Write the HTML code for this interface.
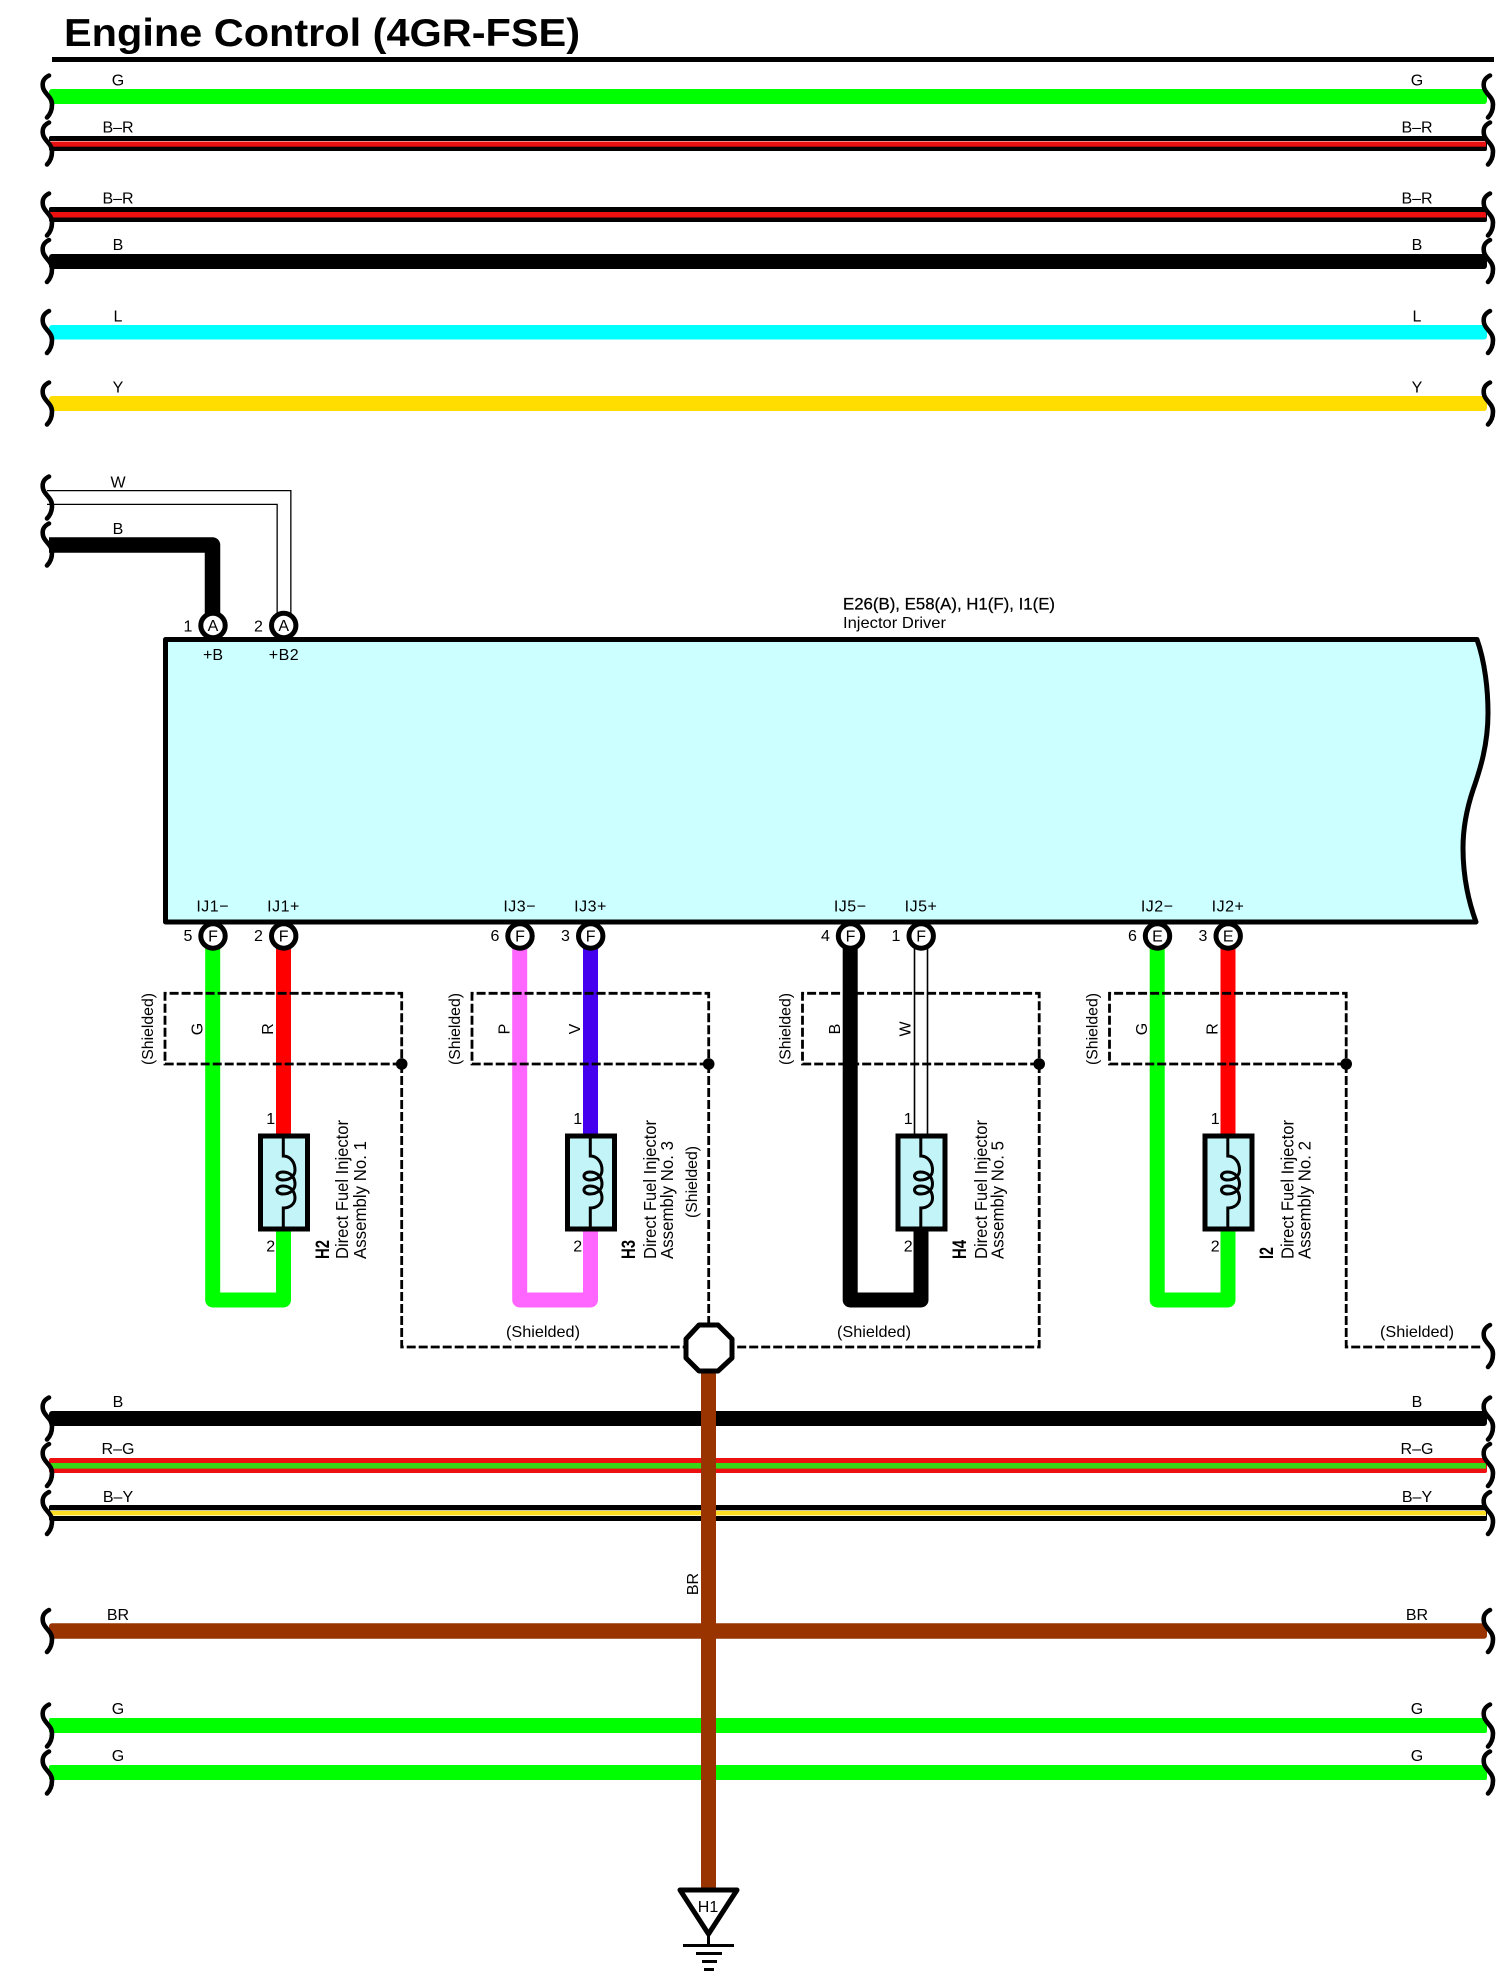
<!DOCTYPE html>
<html><head><meta charset="utf-8">
<style>
html,body{margin:0;padding:0;background:#fff}
svg{display:block}
text{font-family:"Liberation Sans",Arial,sans-serif;font-size:16px;fill:#000}
.m{text-anchor:middle}
.d{fill:none;stroke:#000;stroke-width:2.8;stroke-dasharray:9 3}
.c{fill:#fff;stroke:#000;stroke-width:5}
.w{fill:none;stroke-width:15;stroke-linejoin:round}
</style></head><body>
<svg width="1509" height="1986" viewBox="0 0 1509 1986" xmlns="http://www.w3.org/2000/svg">
<defs>
<path id="sq" d="M49,-21 C43,-18 42,-14 43,-9 C44,-3 52,0 52,8 C52,14 50,18 47,21" fill="none" stroke="#000" stroke-width="4.6" stroke-linecap="round"/>
<g id="inj">
<rect x="260.5" y="1136" width="47" height="93" fill="#c2f4f8" stroke="#000" stroke-width="5"/>
<path d="M283.3,1136 V1156 C290,1156 295,1162 295,1170 C295,1176 290,1180 283,1180 C275,1180 275,1172 283,1172 C291,1172 295,1178 295,1184 C295,1190 290,1194 283,1194 C275,1194 275,1186 283,1186 C291,1186 295,1192 295,1198 C295,1204 290,1208 283.3,1208 V1229" fill="none" stroke="#000" stroke-width="3"/>
</g>
<g id="shield">
<path class="d" d="M401.7,1064 H165 V993.3 H401.7 V1064"/>
<circle cx="401.7" cy="1064" r="5.8" fill="#000"/>
</g>
</defs>

<!-- Title -->
<text x="64" y="46" style="font-size:39px;font-weight:bold" textLength="516" lengthAdjust="spacingAndGlyphs">Engine Control (4GR-FSE)</text>
<rect x="52" y="57" width="1442" height="5"/>

<!-- Top buses -->
<rect x="49" y="89" width="1438" height="15" rx="3" fill="#00ff00"/>
<rect x="49" y="136" width="1438" height="15" rx="2" fill="#000"/>
<rect x="49" y="141" width="1438" height=".8" fill="#fff"/>
<rect x="50" y="141.5" width="1436" height="5.2" fill="#e81010"/>
<rect x="49" y="207" width="1438" height="15" rx="2" fill="#000"/>
<rect x="50" y="212" width="1436" height="5.5" fill="#ee1010"/>
<rect x="49" y="254" width="1438" height="15" rx="3" fill="#000"/>
<rect x="49" y="325" width="1438" height="14.5" rx="3" fill="#00ffff"/>
<rect x="49" y="396" width="1438" height="15" rx="3" fill="#ffdd00"/>

<use href="#sq" transform="translate(0,96.5)"/><use href="#sq" transform="translate(1441,96.5)"/>
<use href="#sq" transform="translate(0,143.5)"/><use href="#sq" transform="translate(1441,143.5)"/>
<use href="#sq" transform="translate(0,214.5)"/><use href="#sq" transform="translate(1441,214.5)"/>
<use href="#sq" transform="translate(0,261)"/><use href="#sq" transform="translate(1441,261)"/>
<use href="#sq" transform="translate(0,332)"/><use href="#sq" transform="translate(1441,332)"/>
<use href="#sq" transform="translate(0,403.5)"/><use href="#sq" transform="translate(1441,403.5)"/>

<text class="m" x="118" y="85.5">G</text><text class="m" x="1417" y="85.5">G</text>
<text class="m" x="118" y="132.5">B–R</text><text class="m" x="1417" y="132.5">B–R</text>
<text class="m" x="118" y="203.5">B–R</text><text class="m" x="1417" y="203.5">B–R</text>
<text class="m" x="118" y="250">B</text><text class="m" x="1417" y="250">B</text>
<text class="m" x="118" y="321.5">L</text><text class="m" x="1417" y="321.5">L</text>
<text class="m" x="118" y="392.5">Y</text><text class="m" x="1417" y="392.5">Y</text>

<!-- Module -->
<path d="M165.5,639.5 H1477 C1485,662 1488,690 1488,713 C1488,745 1480,770 1473,790 C1467,808 1463,828 1463,848 C1463,875 1468,900 1476,922 H165.5 Z" fill="#ccffff" stroke="#000" stroke-width="5" stroke-linejoin="round"/>
<text x="843" y="609.5" style="font-size:17px" stroke="#000" stroke-width=".25" textLength="212" lengthAdjust="spacingAndGlyphs">E26(B), E58(A), H1(F), I1(E)</text>
<text x="843" y="628" textLength="103" lengthAdjust="spacingAndGlyphs">Injector Driver</text>

<!-- Top inputs -->
<path d="M47,497.5 H284 V615" fill="none" stroke="#000" stroke-width="15"/>
<path d="M47,497.5 H284 V615" fill="none" stroke="#fff" stroke-width="12.4"/>
<path class="w" stroke="#000" style="stroke-width:15.5" d="M49,545 H212.5 V615"/>
<use href="#sq" transform="translate(0,497.5)"/>
<use href="#sq" transform="translate(0,544.5)"/>
<text class="m" x="118" y="487.5">W</text>
<text class="m" x="118" y="534">B</text>
<circle class="c" cx="213" cy="625.5" r="12.2"/><circle class="c" cx="283.7" cy="625.5" r="12.2"/>
<text class="m" x="213" y="631">A</text><text class="m" x="283.7" y="631">A</text>
<text class="m" x="188" y="631.5">1</text><text class="m" x="258.5" y="631.5">2</text>
<text class="m" x="213" y="660">+B</text><text class="m" x="284" y="660" letter-spacing=".5">+B2</text>

<!-- Column 1 : H2 -->
<g>
<path class="w" stroke="#00ff00" d="M212.7,945 V1300 H283.5 V1225"/>
<path class="w" stroke="#ff0000" fill="none" d="M283.5,945 V1136"/>
<use href="#inj"/><use href="#shield"/>
<path class="d" d="M401.7,1064 V1347 H686"/>
<text class="m" x="212.7" y="911.5" letter-spacing=".5">IJ1−</text><text class="m" x="283.5" y="911.5" letter-spacing=".5">IJ1+</text>
<circle class="c" cx="213" cy="936" r="12.2"/><circle class="c" cx="283.7" cy="936" r="12.2"/>
<text class="m" x="213" y="941.5">F</text><text class="m" x="283.7" y="941.5">F</text>
<text class="m" x="188" y="941">5</text><text class="m" x="258.5" y="941">2</text>
<text class="m" x="270.7" y="1124">1</text><text class="m" x="270.7" y="1251.5">2</text>
<text class="m" transform="translate(153,1029) rotate(-90)" textLength="72" lengthAdjust="spacingAndGlyphs">(Shielded)</text>
<text class="m" transform="translate(202.5,1029) rotate(-90)">G</text>
<text class="m" transform="translate(273,1029) rotate(-90)">R</text>
<text transform="translate(329,1259) rotate(-90)" style="font-size:19px;font-weight:bold" textLength="19" lengthAdjust="spacingAndGlyphs">H2</text>
<text transform="translate(348,1259) rotate(-90)" style="font-size:17.5px" textLength="139" lengthAdjust="spacingAndGlyphs">Direct Fuel Injector</text>
<text transform="translate(366,1259) rotate(-90)" style="font-size:17.5px" textLength="118" lengthAdjust="spacingAndGlyphs">Assembly No.  1</text>
</g>

<!-- Column 2 : H3 -->
<g transform="translate(307,0)">
<path class="w" stroke="#ff66ff" d="M212.7,945 V1300 H283.5 V1225"/>
<path class="w" stroke="#4400ee" fill="none" d="M283.5,945 V1136"/>
<use href="#inj"/><use href="#shield"/>
<path class="d" d="M401.7,1064 V1326"/>
<text class="m" x="212.7" y="911.5" letter-spacing=".5">IJ3−</text><text class="m" x="283.5" y="911.5" letter-spacing=".5">IJ3+</text>
<circle class="c" cx="213" cy="936" r="12.2"/><circle class="c" cx="283.7" cy="936" r="12.2"/>
<text class="m" x="213" y="941.5">F</text><text class="m" x="283.7" y="941.5">F</text>
<text class="m" x="188" y="941">6</text><text class="m" x="258.5" y="941">3</text>
<text class="m" x="270.7" y="1124">1</text><text class="m" x="270.7" y="1251.5">2</text>
<text class="m" transform="translate(153,1029) rotate(-90)" textLength="72" lengthAdjust="spacingAndGlyphs">(Shielded)</text>
<text class="m" transform="translate(202.5,1029) rotate(-90)">P</text>
<text class="m" transform="translate(273,1029) rotate(-90)">V</text>
<text transform="translate(328,1259) rotate(-90)" style="font-size:19px;font-weight:bold" textLength="19" lengthAdjust="spacingAndGlyphs">H3</text>
<text transform="translate(349,1259) rotate(-90)" style="font-size:17.5px" textLength="139" lengthAdjust="spacingAndGlyphs">Direct Fuel Injector</text>
<text transform="translate(366,1259) rotate(-90)" style="font-size:17.5px" textLength="118" lengthAdjust="spacingAndGlyphs">Assembly No.  3</text>
<text class="m" transform="translate(390,1182) rotate(-90)" textLength="72" lengthAdjust="spacingAndGlyphs">(Shielded)</text>
</g>
<text class="m" x="543" y="1337" textLength="74" lengthAdjust="spacingAndGlyphs">(Shielded)</text>

<!-- Column 3 : H4 -->
<g transform="translate(637.5,0)">
<path class="w" stroke="#000" d="M212.7,945 V1300 H283.5 V1225"/>
<path d="M277,945 V1136 M290,945 V1136" fill="none" stroke="#000" stroke-width="1.6"/>
<use href="#inj"/><use href="#shield"/>
<path class="d" d="M401.7,1064 V1347 H96"/>
<text class="m" x="212.7" y="911.5" letter-spacing=".5">IJ5−</text><text class="m" x="283.5" y="911.5" letter-spacing=".5">IJ5+</text>
<circle class="c" cx="213" cy="936" r="12.2"/><circle class="c" cx="283.7" cy="936" r="12.2"/>
<text class="m" x="213" y="941.5">F</text><text class="m" x="283.7" y="941.5">F</text>
<text class="m" x="188" y="941">4</text><text class="m" x="258.5" y="941">1</text>
<text class="m" x="270.7" y="1124">1</text><text class="m" x="270.7" y="1251.5">2</text>
<text class="m" transform="translate(153,1029) rotate(-90)" textLength="72" lengthAdjust="spacingAndGlyphs">(Shielded)</text>
<text class="m" transform="translate(202.5,1029) rotate(-90)">B</text>
<text class="m" transform="translate(273,1029) rotate(-90)">W</text>
<text transform="translate(328.5,1259) rotate(-90)" style="font-size:19px;font-weight:bold" textLength="19" lengthAdjust="spacingAndGlyphs">H4</text>
<text transform="translate(349.5,1259) rotate(-90)" style="font-size:17.5px" textLength="139" lengthAdjust="spacingAndGlyphs">Direct Fuel Injector</text>
<text transform="translate(366,1259) rotate(-90)" style="font-size:17.5px" textLength="118" lengthAdjust="spacingAndGlyphs">Assembly No.  5</text>
</g>
<text class="m" x="874" y="1337" textLength="74" lengthAdjust="spacingAndGlyphs">(Shielded)</text>

<!-- Column 4 : I2 -->
<g transform="translate(944.5,0)">
<path class="w" stroke="#00ff00" d="M212.7,945 V1300 H283.5 V1225"/>
<path class="w" stroke="#ff0000" fill="none" d="M283.5,945 V1136"/>
<use href="#inj"/><use href="#shield"/>
<path class="d" d="M401.7,1064 V1347 H536"/>
<text class="m" x="212.7" y="911.5" letter-spacing=".5">IJ2−</text><text class="m" x="283.5" y="911.5" letter-spacing=".5">IJ2+</text>
<circle class="c" cx="213" cy="936" r="12.2"/><circle class="c" cx="283.7" cy="936" r="12.2"/>
<text class="m" x="213" y="941.5">E</text><text class="m" x="283.7" y="941.5">E</text>
<text class="m" x="188" y="941">6</text><text class="m" x="258.5" y="941">3</text>
<text class="m" x="270.7" y="1124">1</text><text class="m" x="270.7" y="1251.5">2</text>
<text class="m" transform="translate(153,1029) rotate(-90)" textLength="72" lengthAdjust="spacingAndGlyphs">(Shielded)</text>
<text class="m" transform="translate(202.5,1029) rotate(-90)">G</text>
<text class="m" transform="translate(273,1029) rotate(-90)">R</text>
<text transform="translate(328.5,1259) rotate(-90)" style="font-size:19px;font-weight:bold" textLength="12" lengthAdjust="spacingAndGlyphs">I2</text>
<text transform="translate(349,1259) rotate(-90)" style="font-size:17.5px" textLength="139" lengthAdjust="spacingAndGlyphs">Direct Fuel Injector</text>
<text transform="translate(366,1259) rotate(-90)" style="font-size:17.5px" textLength="118" lengthAdjust="spacingAndGlyphs">Assembly No.  2</text>
</g>
<text class="m" x="1417" y="1337" textLength="74" lengthAdjust="spacingAndGlyphs">(Shielded)</text>
<use href="#sq" transform="translate(1441,1346)"/>

<!-- Lower buses -->
<rect x="49" y="1411" width="1438" height="15" rx="3" fill="#000"/>
<rect x="49" y="1458" width="1438" height="15" rx="2" fill="#ee1010"/>
<rect x="50" y="1463" width="1436" height="5.6" fill="#38d818"/>
<rect x="49" y="1505" width="1438" height="16" rx="2" fill="#000"/>
<rect x="50" y="1510.2" width="1436" height="5.8" fill="#fff"/>
<rect x="50" y="1510.8" width="1436" height="4.6" fill="#ffdd22"/>
<rect x="49" y="1623.3" width="1438" height="15.4" rx="3" fill="#993300"/>
<rect x="49" y="1718" width="1438" height="15" rx="2" fill="#00ff00"/>
<rect x="49" y="1765" width="1438" height="15" rx="2" fill="#00ff00"/>

<use href="#sq" transform="translate(0,1418.5)"/><use href="#sq" transform="translate(1441,1418.5)"/>
<use href="#sq" transform="translate(0,1465)"/><use href="#sq" transform="translate(1441,1465)"/>
<use href="#sq" transform="translate(0,1513)"/><use href="#sq" transform="translate(1441,1513)"/>
<use href="#sq" transform="translate(0,1631)"/><use href="#sq" transform="translate(1441,1631)"/>
<use href="#sq" transform="translate(0,1725.5)"/><use href="#sq" transform="translate(1441,1725.5)"/>
<use href="#sq" transform="translate(0,1772.5)"/><use href="#sq" transform="translate(1441,1772.5)"/>

<text class="m" x="118" y="1407">B</text><text class="m" x="1417" y="1407">B</text>
<text class="m" x="118" y="1454">R–G</text><text class="m" x="1417" y="1454">R–G</text>
<text class="m" x="118" y="1502">B–Y</text><text class="m" x="1417" y="1502">B–Y</text>
<text class="m" x="118" y="1620">BR</text><text class="m" x="1417" y="1620">BR</text>
<text class="m" x="118" y="1714">G</text><text class="m" x="1417" y="1714">G</text>
<text class="m" x="118" y="1761">G</text><text class="m" x="1417" y="1761">G</text>

<!-- Ground drop -->
<rect x="701" y="1370" width="15" height="522" fill="#993300"/>
<text class="m" transform="translate(698,1584) rotate(-90)">BR</text>
<polygon points="699,1325 718,1325 732,1339 732,1358 718,1371 699,1371 686,1358 686,1339" fill="#fff" stroke="#000" stroke-width="5" stroke-linejoin="round"/>
<polygon points="680,1890 737,1890 708.5,1934" fill="#fff" stroke="#000" stroke-width="5" stroke-linejoin="round"/>
<text class="m" x="708" y="1912">H1</text>
<path d="M708.5,1934 V1945 M683,1945.5 H734 M696,1953.5 H722 M702,1961.5 H717 M704,1969.5 H714" fill="none" stroke="#000" stroke-width="3"/>
</svg>
</body></html>
